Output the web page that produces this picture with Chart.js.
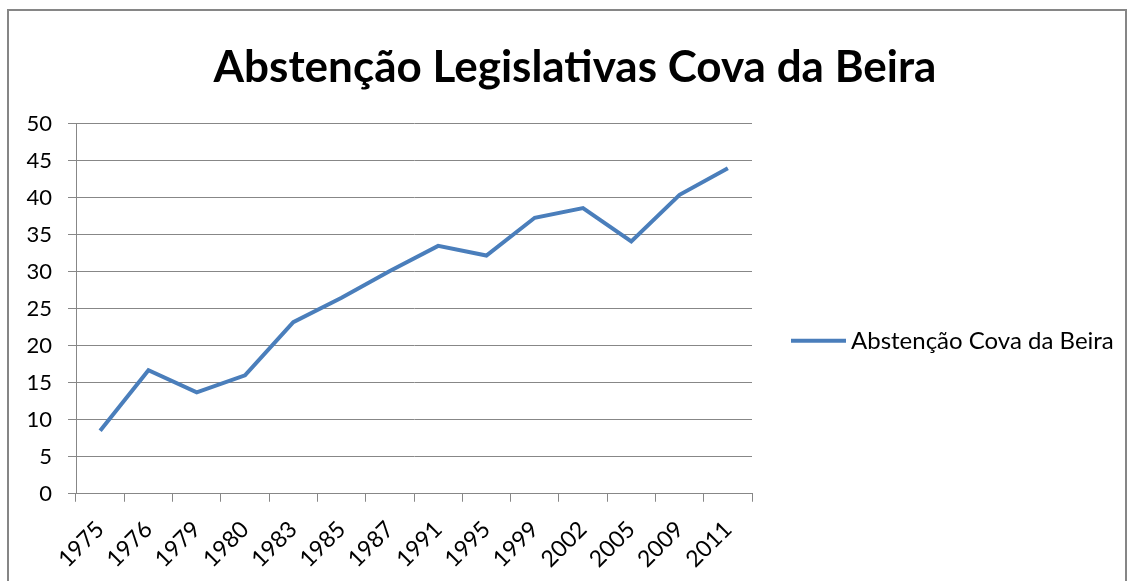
<!DOCTYPE html>
<html>
<head>
<meta charset="utf-8">
<script src="https://cdn.jsdelivr.net/npm/chart.js@4"></script>
<style>
  body { margin: 0; background: #fff; }
  #moldura { position: absolute; left: 7px; top: 9px; width: 1116px; height: 600px; border: 2px solid #868686; }
  #wrap { position: absolute; left: 0; top: 0; width: 1133px; height: 581px; }
</style>
</head>
<body>
<div id="moldura"></div>
<div id="wrap"><canvas id="grafico"></canvas></div>
<script>
const anos = ['1975', '1976', '1979', '1980', '1983', '1985', '1987', '1991', '1995', '1999', '2002', '2005', '2009', '2011'];
const abstencao = [8.5, 16.7, 13.7, 16.0, 23.2, 26.5, 30.1, 33.5, 32.2, 37.3, 38.6, 34.1, 40.4, 44.0];
const ticksY = [0, 5, 10, 15, 20, 25, 30, 35, 40, 45, 50];

// legenda desenhada à mão (a do Chart.js media mal o texto)
const legendaDireita = {
    id: 'legendaDireita',
    afterDraw(chart) {
        const c = chart.ctx;
        const area = chart.chartArea;
        const ds = chart.data.datasets[0];
        const x = area.right + 39;
        const y = (area.top + area.bottom) / 2 + 32;
        c.save();
        c.strokeStyle = ds.borderColor;
        c.lineWidth = ds.borderWidth;
        c.beginPath();
        c.moveTo(x, y);
        c.lineTo(x + 55, y);
        c.stroke();
        c.fillStyle = '#000';
        c.font = '24px Lato, "Open Sans", sans-serif';
        c.textBaseline = 'middle';
        c.fillText(ds.label, x + 60, y);
        c.restore();
    }
};

document.addEventListener("DOMContentLoaded", function() {
    const ctx = document.getElementById('grafico').getContext('2d');
    Chart.defaults.font.family = 'Lato, "Open Sans", sans-serif';
    Chart.defaults.color = '#000';

    new Chart(ctx, {
        type: 'line',
        data: {
            labels: anos,
            datasets: [{
                label: 'Abstenção Cova da Beira',
                data: abstencao,
                borderColor: '#4a7ebb',
                backgroundColor: '#4a7ebb',
                borderWidth: 4,
                pointRadius: 0,
                tension: 0
            }]
        },
        options: {
            responsive: true,
            maintainAspectRatio: false,
            animation: false,
            layout: { padding: { left: 17, right: 0, top: 0, bottom: 0 } },
            plugins: {
                title: {
                    display: true,
                    text: 'Abstenção Legislativas Cova da Beira',
                    font: { size: 44, weight: 'bold' },
                    padding: { top: 41, bottom: 30 }
                },
                legend: { display: false },
                tooltip: { enabled: false }
            },
            scales: {
                x: {
                    offset: true,
                    grid: { display: true, drawOnChartArea: false, drawTicks: true, tickLength: 8, color: '#878787', offset: true },
                    border: { color: '#878787' },
                    ticks: { font: { size: 23 }, minRotation: 45, maxRotation: 45, padding: 14, autoSkip: false },
                    afterFit: function(axis) { axis.height = axis.height - 6; }
                },
                y: {
                    min: 0,
                    max: 50,
                    afterBuildTicks: function(axis) {
                        axis.ticks = ticksY.map(v => ({ value: v }));
                    },
                    afterFit: function(axis) { axis.width = 59; },
                    grid: { color: '#878787', tickLength: 8 },
                    border: { color: '#878787' },
                    ticks: { font: { size: 22 }, padding: 16 }
                },
                espaco: {
                    type: 'linear',
                    position: 'right',
                    grid: { display: false },
                    border: { display: false },
                    ticks: { display: false },
                    afterFit: function(axis) { axis.width = 381; }
                }
            }
        },
        plugins: [legendaDireita]
    });
});
</script>
</body>
</html>
